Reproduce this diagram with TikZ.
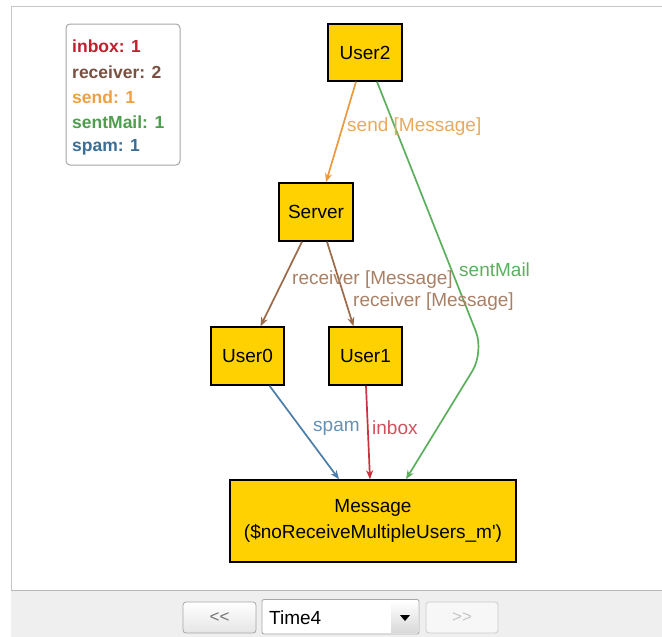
\documentclass[tikz,border=0pt]{standalone}
\usepackage{fontspec}
\setmainfont{Liberation Sans}
\usetikzlibrary{arrows.meta,shapes.geometric}
\definecolor{nodefill}{HTML}{FFD100}
\definecolor{cinbox}{HTML}{C8323F}
\definecolor{creceiver}{HTML}{9A6A4A}
\definecolor{csend}{HTML}{E89A3C}
\definecolor{csent}{HTML}{5CAF5C}
\definecolor{cspam}{HTML}{4A7DA8}
\definecolor{linbox}{HTML}{C0202E}
\definecolor{lreceiver}{HTML}{7A5040}
\definecolor{lsend}{HTML}{F0A040}
\definecolor{lsent}{HTML}{4E9E4E}
\definecolor{lspam}{HTML}{3A6E96}
\definecolor{barfill}{HTML}{EFEFEF}
\tikzset{
  atom/.style={draw=black, line width=1.5pt, fill=nodefill, inner sep=0pt, align=center,
    font=\fontsize{19}{26}\selectfont},
  edge/.style={line width=1.7pt, -{Stealth[length=9pt,width=7pt]}},
  elabel/.style={inner sep=0pt, anchor=west, font=\fontsize{19}{22}\selectfont},
  legtext/.style={inner sep=0pt, anchor=west, font=\fontsize{17.5}{20}\selectfont\bfseries},
  btn/.style={draw=gray!70, rounded corners=3pt, line width=0.8pt, inner sep=0pt},
}
\begin{document}
\begin{tikzpicture}[x=1pt,y=-1pt]
\useasboundingbox (0,0) rectangle (662,637);
\fill[white] (0,0) rectangle (662,637);
% frame
\draw[gray!45, line width=1pt] (11,591) -- (11,6) -- (662,6);
\fill[barfill] (11,591) rectangle (662,637);
\draw[gray!55, line width=1.2pt] (11,590.5) -- (662,590.5);
% legend
\draw[gray!70, rounded corners=4pt, line width=1pt, fill=white] (66,24) rectangle (180,165);
\node[legtext, text=linbox] (l1) at (72,46) {inbox: 1};
\node[legtext, text=lreceiver] (l2) at (72,72) {receiver: 2};
\node[legtext, text=lsend] (l3) at (72,97) {send: 1};
\node[legtext, text=lsent] (l4) at (72,122) {sentMail: 1};
\node[legtext, text=lspam] (l5) at (72,147) {spam: 1};
% nodes
\node[atom, minimum width=74pt, minimum height=57pt] (u2) at (365,52.5) {User2};
\node[atom, minimum width=74pt, minimum height=58pt] (srv) at (316,212) {Server};
\node[atom, minimum width=73pt, minimum height=58pt] (u0) at (247.5,356) {User0};
\node[atom, minimum width=73pt, minimum height=58pt] (u1) at (365.5,356) {User1};
\node[atom, minimum width=286pt, minimum height=82pt] (msg) at (373,521) {Message\\(\$noReceiveMultipleUsers\_m\textquotesingle)};
% edges
\draw[edge, csend] ([xshift=-9pt]u2.south) -- ([xshift=10pt]srv.north);
\coordinate (bend) at (484,352);
\draw[edge, csent, rounded corners=22pt] ([xshift=12pt]u2.south) -- (bend) -- ([xshift=33pt]msg.north);
\draw[edge, creceiver] ([xshift=-14pt]srv.south) -- ([xshift=13pt]u0.north);
\draw[edge, creceiver] ([xshift=11pt]srv.south) -- ([xshift=-12pt]u1.north);
\draw[edge, cspam] ([xshift=22pt]u0.south) -- ([xshift=-34pt]msg.north);
\draw[edge, cinbox] ([xshift=0.5pt]u1.south) -- ([xshift=-3pt]msg.north);
% edge labels
\node[elabel, text=csend!85] (t1) at (347,127) {send [Message]};
\node[elabel, text=creceiver!85] (t2) at (292,280) {receiver [Message]};
\node[elabel, text=creceiver!85] (t3) at (353,302) {receiver [Message]};
\node[elabel, text=csent] (t4) at (459,270) {sentMail};
\node[elabel, text=cspam!85] (t5) at (313,428) {spam};
\node[elabel, text=cinbox!85] (t6) at (372,428) {inbox};
% bottom controls
\shade[btn, top color=white, bottom color=gray!20] (183,602) rectangle (256,633);
\node[font=\fontsize{17}{20}\selectfont, text=gray!90!black] (prev) at (219.5,618) {<{}<};
\draw[btn, fill=white, rounded corners=2pt] (262,599.5) rectangle (419,634);
\shade[top color=white, bottom color=gray!30] (391,601) rectangle (417.5,632.5);
\node[font=\fontsize{19}{22}\selectfont, anchor=west, inner sep=0pt] (sel) at (269,618) {Time4};
\fill[black] (400,615) -- (410,615) -- (405,621) -- cycle;
\draw[btn, draw=gray!40, fill=barfill!50!white] (426,602) rectangle (498,633);
\node[font=\fontsize{17}{20}\selectfont, text=gray!45] (next) at (462,618) {>{}>};
\end{tikzpicture}
\end{document}
